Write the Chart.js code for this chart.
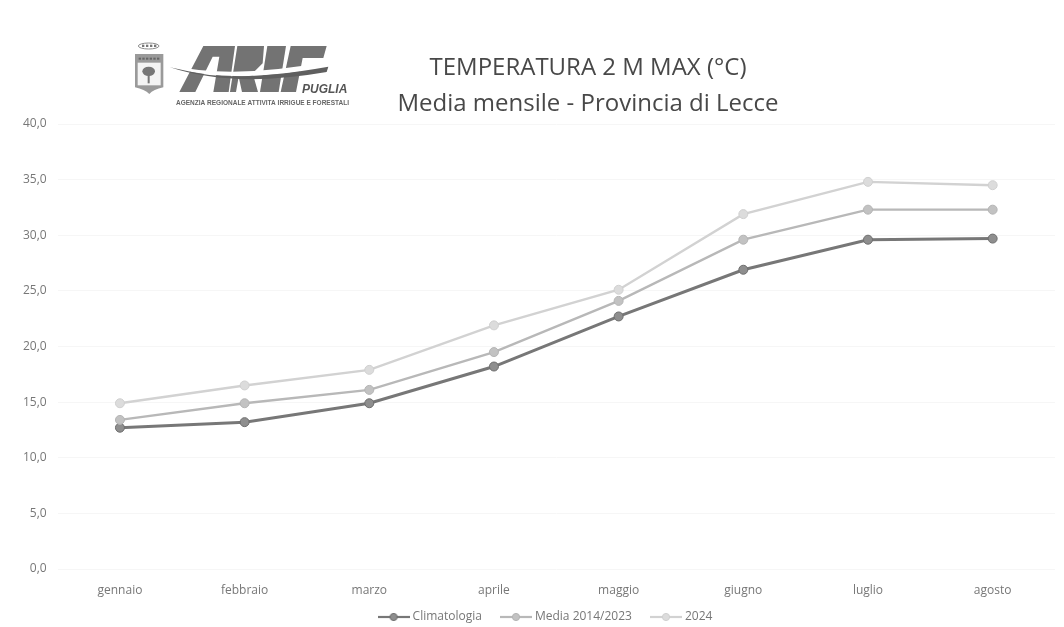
<!DOCTYPE html>
<html lang="it">
<head>
<meta charset="utf-8">
<title>Temperatura 2 m max - Provincia di Lecce</title>
<script src="https://cdn.jsdelivr.net/npm/chart.js@4"></script>
<style>
  html, body { margin: 0; padding: 0; background: #fff; }
  #wrap { width: 1064px; height: 627px; }
</style>
</head>
<body>
<div id="wrap"><canvas id="tempChart" width="1064" height="627"></canvas></div>
<script>
// ---------- Data ----------
const months = ["gennaio", "febbraio", "marzo", "aprile", "maggio", "giugno", "luglio", "agosto"];
const climatologia = [12.7, 13.2, 14.9, 18.2, 22.7, 26.9, 29.6, 29.7];
const media = [13.4, 14.9, 16.1, 19.5, 24.1, 29.6, 32.3, 32.3];
const anno2024 = [14.9, 16.5, 17.9, 21.9, 25.1, 31.9, 34.8, 34.5];
const titleLines = ["TEMPERATURA 2 M MAX (°C)", "Media mensile - Provincia di Lecce"];

const FONT = "'Open Sans', sans-serif";

// ---------- Legend swatch: short line with a marker on it ----------
function swatch(lineCol, dotCol, edgeCol) {
  const c = document.createElement("canvas");
  c.width = 32;
  c.height = 12;
  const g = c.getContext("2d");
  g.strokeStyle = lineCol;
  g.lineWidth = 2.2;
  g.beginPath();
  g.moveTo(0, 6);
  g.lineTo(32, 6);
  g.stroke();
  g.fillStyle = dotCol;
  g.strokeStyle = edgeCol;
  g.lineWidth = 1;
  g.beginPath();
  g.arc(16, 6, 3.6, 0, Math.PI * 2);
  g.fill();
  g.stroke();
  return c;
}

// ---------- Logo + title, drawn over the plot ----------
function poly(ctx, pts) {
  ctx.beginPath();
  pts.forEach((p, i) => (i ? ctx.lineTo(p[0], p[1]) : ctx.moveTo(p[0], p[1])));
  ctx.closePath();
  ctx.fill();
}

function drawLogo(ctx) {
  ctx.save();
  ctx.translate(120, 30);
  ctx.scale(1 / 3, 1 / 3);

  // crown
  ctx.strokeStyle = "#8c8c8c";
  ctx.lineWidth = 3;
  ctx.beginPath();
  ctx.ellipse(86, 48, 31, 9, 0, 0, Math.PI * 2);
  ctx.stroke();
  ctx.fillStyle = "#777";
  [66, 78, 90, 102].forEach((x) => ctx.fillRect(x, 44, 7, 7));

  // shield
  ctx.fillStyle = "#9a9a9a";
  ctx.beginPath();
  ctx.moveTo(45, 72);
  ctx.lineTo(130, 72);
  ctx.lineTo(130, 172);
  ctx.quadraticCurveTo(100, 178, 88, 192);
  ctx.quadraticCurveTo(74, 178, 45, 172);
  ctx.closePath();
  ctx.fill();
  ctx.fillStyle = "#f4f4f4";
  ctx.fillRect(53, 98, 69, 68);
  ctx.fillStyle = "#666";
  [56, 67, 78, 89, 100, 111].forEach((x) => ctx.fillRect(x, 83, 7, 6));
  ctx.fillStyle = "#777";
  ctx.beginPath();
  ctx.ellipse(86, 124, 19, 14, 0, 0, Math.PI * 2);
  ctx.fill();
  ctx.fillRect(83, 130, 6, 30);

  // ARIF letters
  ctx.fillStyle = "#737373";
  poly(ctx, [[178, 186], [250, 48], [345, 48], [326, 186], [280, 186], [298, 80], [278, 80], [226, 186]]);
  poly(ctx, [[352, 48], [432, 48], [428, 100], [398, 130], [414, 186], [366, 186], [356, 140], [348, 186], [330, 186]]);
  poly(ctx, [[442, 48], [498, 48], [476, 186], [420, 186]]);
  poly(ctx, [[512, 48], [620, 48], [610, 84], [548, 84], [528, 186], [482, 186]]);

  // swoosh cutting through the letters
  ctx.fillStyle = "#fff";
  ctx.beginPath();
  ctx.moveTo(150, 106);
  ctx.quadraticCurveTo(340, 150, 625, 94);
  ctx.lineTo(625, 112);
  ctx.quadraticCurveTo(340, 165, 150, 112);
  ctx.closePath();
  ctx.fill();
  ctx.fillStyle = "#5f5f5f";
  ctx.beginPath();
  ctx.moveTo(150, 112);
  ctx.quadraticCurveTo(340, 175, 620, 126);
  ctx.lineTo(625, 110);
  ctx.quadraticCurveTo(340, 160, 205, 124);
  ctx.closePath();
  ctx.fill();
  ctx.restore();

  ctx.fillStyle = "#555";
  ctx.textAlign = "left";
  ctx.textBaseline = "alphabetic";
  ctx.font = "italic bold 12px 'Liberation Sans', sans-serif";
  ctx.fillText("PUGLIA", 302, 93);
  ctx.fillStyle = "#666";
  ctx.font = "bold 6.5px 'Liberation Sans', sans-serif";
  ctx.fillText("AGENZIA REGIONALE ATTIVITA IRRIGUE E FORESTALI", 176, 105);
}

const headerPlugin = {
  id: "header",
  // the legend sits right of centre and a little above its default slot
  afterLayout(chart) {
    const lg = chart.legend;
    lg.top -= 7;
    lg.bottom -= 7;
    lg.left += 19;
    lg.right += 19;
  },
  afterDraw(chart) {
    const ctx = chart.ctx;
    ctx.save();
    drawLogo(ctx);
    ctx.fillStyle = "#484848";
    ctx.textAlign = "center";
    ctx.textBaseline = "middle";
    ctx.font = "24px " + FONT;
    ctx.fillText(titleLines[0], 588, 68);
    ctx.fillText(titleLines[1], 588, 104);
    ctx.restore();
  },
};

// ---------- Series ----------
function lineSet(label, values, lineCol, dotCol, edgeCol, width) {
  return {
    label,
    data: values,
    borderColor: lineCol,
    borderWidth: width,
    pointBackgroundColor: dotCol,
    pointBorderColor: edgeCol,
    pointBorderWidth: 1,
    pointRadius: 4.5,
    tension: 0,
    fill: false,
    legendSwatch: swatch(lineCol, dotCol, edgeCol),
  };
}

new Chart(document.getElementById("tempChart"), {
  type: "line",
  data: {
    labels: months,
    datasets: [
      lineSet("2024", anno2024, "#d2d2d2", "#dcdcdc", "#d0d0d0", 2.4),
      lineSet("Media 2014/2023", media, "#b8b8b8", "#c2c2c2", "#b4b4b4", 2.4),
      lineSet("Climatologia", climatologia, "#777777", "#8e8e8e", "#6e6e6e", 3),
    ],
  },
  plugins: [headerPlugin],
  options: {
    responsive: false,
    animation: false,
    layout: { padding: { top: 124, right: 9, bottom: -13, left: 0 } },
    plugins: {
      title: { display: false },
      tooltip: { enabled: false },
      legend: {
        position: "bottom",
        labels: {
          font: { family: FONT, size: 12 },
          color: "#777",
          usePointStyle: true,
          pointStyleWidth: 26,
          padding: 21,
          // legend order is the reverse of the drawing order
          generateLabels(chart) {
            return chart.data.datasets
              .map((d, i) => ({
                text: d.label,
                datasetIndex: i,
                fontColor: "#777",
                pointStyle: d.legendSwatch,
                lineWidth: 0,
                strokeStyle: "transparent",
                fillStyle: "transparent",
              }))
              .reverse();
          },
        },
      },
    },
    scales: {
      x: {
        offset: true,
        afterFit(scale) {
          scale.height = 28;
        },
        grid: { display: false, drawTicks: false },
        border: { display: false },
        ticks: {
          color: "#777",
          font: { family: FONT, size: 12 },
          maxRotation: 0,
          padding: 14,
        },
      },
      y: {
        min: 0,
        max: 40,
        afterFit(scale) {
          scale.width = 57.6;
        },
        grid: { color: "#f6f6f6", lineWidth: 1, drawTicks: false },
        border: { display: false },
        ticks: {
          stepSize: 5,
          color: "#777",
          font: { family: FONT, size: 12 },
          padding: 11,
          callback: (v) => v.toFixed(1).replace(".", ","),
        },
      },
    },
  },
});
</script>
</body>
</html>
